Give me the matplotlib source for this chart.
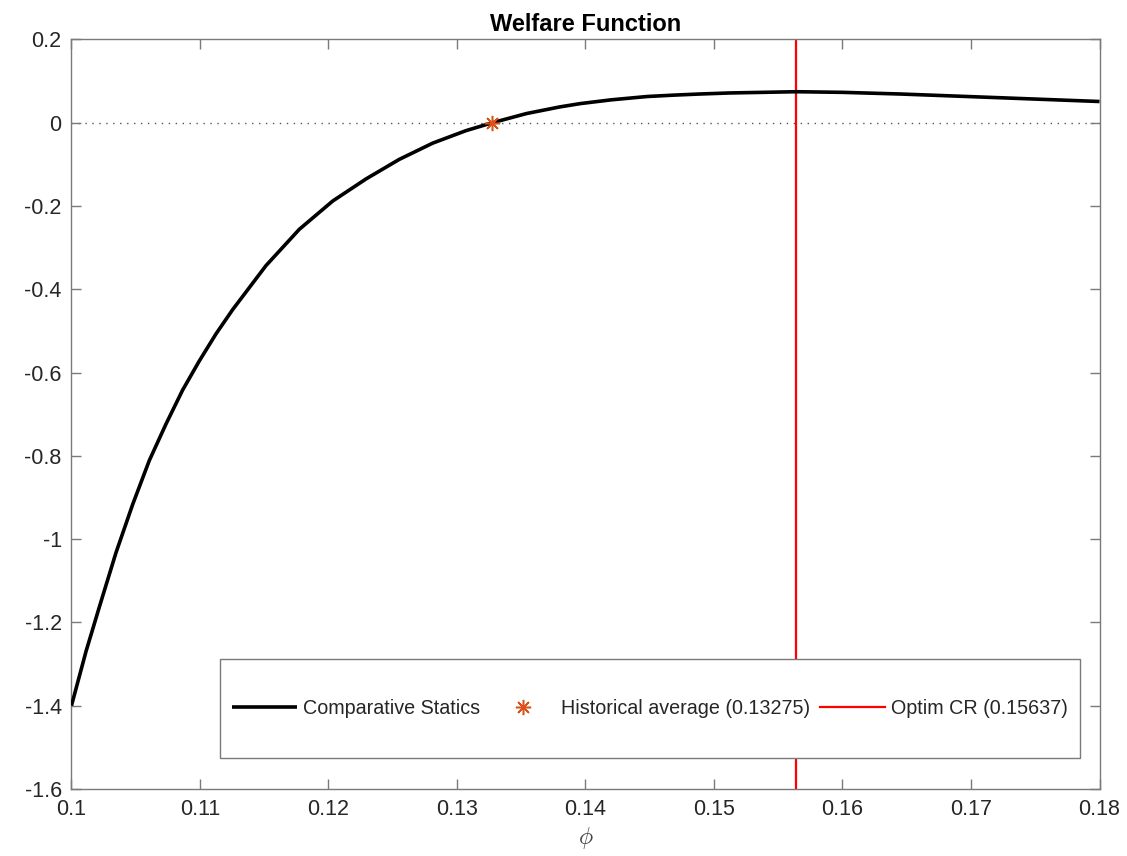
import matplotlib
matplotlib.use('Agg')
import matplotlib.pyplot as plt
import matplotlib.patches as mpatches

plt.rcParams['font.family'] = ['Liberation Sans', 'DejaVu Sans']
plt.rcParams['axes.unicode_minus'] = False
plt.rcParams['mathtext.fontset'] = 'cm'

# welfare curve
phi = [0.1000, 0.10113, 0.10217, 0.10346, 0.10476, 0.10606, 0.10735, 0.10865,
       0.10995, 0.11125, 0.11254, 0.11514, 0.11773, 0.12033, 0.12292, 0.12551,
       0.12811, 0.1307, 0.13275, 0.1354, 0.1380, 0.1396, 0.1420, 0.1448,
       0.1470, 0.1489, 0.1512, 0.1564, 0.1600, 0.1645, 0.1723, 0.1800]
welfare = [-1.400, -1.270, -1.163, -1.033, -0.917, -0.811, -0.724, -0.642,
           -0.572, -0.507, -0.449, -0.343, -0.256, -0.188, -0.135, -0.088,
           -0.049, -0.019, 0.000, 0.022, 0.038, 0.046, 0.055, 0.063,
           0.0665, 0.069, 0.0715, 0.0745, 0.073, 0.069, 0.060, 0.051]

hist_avg = 0.13275
hist_val = 0.0
optim_cr = 0.15637

xticks = [0.1, 0.11, 0.12, 0.13, 0.14, 0.15, 0.16, 0.17, 0.18]
xticklabels = ['0.1', '0.11', '0.12', '0.13', '0.14', '0.15', '0.16', '0.17', '0.18']
yticks = [0.2, 0, -0.2, -0.4, -0.6, -0.8, -1, -1.2, -1.4, -1.6]
yticklabels = ['0.2', '0', '-0.2', '-0.4', '-0.6', '-0.8', '-1', '-1.2', '-1.4', '-1.6']

AX_GRAY = '#7a7a7a'
TXT = '#262626'

fig = plt.figure(figsize=(11.27, 8.56), dpi=100)
ax = fig.add_axes([0.0634, 0.0783, 0.9122, 0.8756])

ax.axhline(0, color='#555555', lw=1.0, ls=(0, (1, 4)), zorder=1)
l1, = ax.plot(phi, welfare, color='black', lw=2.6, zorder=3,
              solid_joinstyle='round', solid_capstyle='butt',
              label='Comparative Statics')
l2, = ax.plot([hist_avg], [hist_val], ls='none', marker=(8, 2, 0),
              markersize=11, mew=1.1, color='#D95319', zorder=4,
              label='Historical average (0.13275)')
l3 = ax.axvline(optim_cr, color='#FF0000', lw=1.6, zorder=2,
                label='Optim CR (0.15637)')

ax.set_xlim(0.1, 0.18)
ax.set_ylim(-1.6, 0.2)
ax.set_xticks(xticks)
ax.set_xticklabels(xticklabels)
ax.set_yticks(yticks)
ax.set_yticklabels(yticklabels)

for s in ax.spines.values():
    s.set_color(AX_GRAY)
    s.set_linewidth(1.0)
ax.tick_params(direction='in', length=7.5, width=1.0, color=AX_GRAY,
               labelsize=15.5, labelcolor=TXT, top=True, right=True, pad=7)

ax.set_title('Welfare Function', fontsize=17, fontweight='bold', color='black', pad=6)
ax.set_xlabel(r'$\phi$', fontsize=17, color='#444444', labelpad=4)

# legend frame drawn separately so it can be tall like the original
frame = mpatches.Rectangle((0.1445, 0.0414), 0.8365, 0.1320, transform=ax.transAxes,
                           facecolor='white', edgecolor=AX_GRAY, lw=1.0, zorder=5)
ax.add_patch(frame)
leg = ax.legend(handles=[l1, l2, l3], loc='center', bbox_to_anchor=(0.5628, 0.1074),
                ncol=3, frameon=False, fontsize=14.2, handlelength=3.3,
                handletextpad=0.3, columnspacing=0.5, borderpad=0)
leg.set_zorder(6)
for t in leg.get_texts():
    t.set_color(TXT)

fig.savefig('out.png', dpi=100, facecolor='white')
